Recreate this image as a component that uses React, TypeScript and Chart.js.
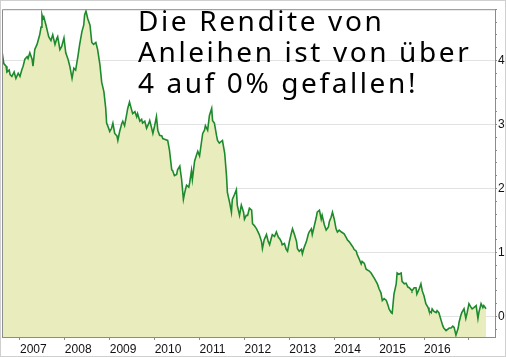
import React, { useEffect, useRef } from "react";
import { Chart, registerables } from "chart.js";

Chart.register(...registerables);

// Dates as decimal years, yields in percent
const YEARS = [
  2006.60, 2006.64, 2006.69, 2006.71, 2006.76, 2006.78, 2006.82, 2006.87, 2006.91, 2006.96,
  2007.00, 2007.04, 2007.07, 2007.11, 2007.16, 2007.18, 2007.22, 2007.27, 2007.29, 2007.33,
  2007.38, 2007.44, 2007.47, 2007.49, 2007.51, 2007.53, 2007.58, 2007.62, 2007.64, 2007.69,
  2007.73, 2007.78, 2007.82, 2007.84, 2007.89, 2007.93, 2007.98, 2008.02, 2008.07, 2008.11,
  2008.16, 2008.20, 2008.24, 2008.29, 2008.33, 2008.38, 2008.42, 2008.44, 2008.47, 2008.51,
  2008.56, 2008.60, 2008.64, 2008.69, 2008.73, 2008.78, 2008.82, 2008.87, 2008.91, 2008.93,
  2008.96, 2009.00, 2009.04, 2009.07, 2009.11, 2009.16, 2009.18, 2009.22, 2009.27, 2009.29,
  2009.33, 2009.38, 2009.40, 2009.44, 2009.49, 2009.51, 2009.56, 2009.60, 2009.62, 2009.67,
  2009.71, 2009.73, 2009.78, 2009.82, 2009.87, 2009.89, 2009.93, 2009.96, 2010.00, 2010.04,
  2010.07, 2010.11, 2010.16, 2010.18, 2010.22, 2010.29, 2010.33, 2010.38, 2010.40, 2010.44,
  2010.49, 2010.51, 2010.56, 2010.60, 2010.64, 2010.67, 2010.71, 2010.76, 2010.78, 2010.82,
  2010.84, 2010.89, 2010.93, 2010.96, 2011.00, 2011.04, 2011.07, 2011.11, 2011.13, 2011.18,
  2011.22, 2011.27, 2011.29, 2011.33, 2011.38, 2011.40, 2011.44, 2011.51, 2011.56, 2011.60,
  2011.62, 2011.67, 2011.71, 2011.73, 2011.78, 2011.82, 2011.84, 2011.89, 2011.93, 2011.98,
  2012.00, 2012.04, 2012.07, 2012.11, 2012.16, 2012.18, 2012.22, 2012.27, 2012.33, 2012.38,
  2012.40, 2012.44, 2012.49, 2012.53, 2012.56, 2012.60, 2012.62, 2012.67, 2012.71, 2012.76,
  2012.78, 2012.82, 2012.84, 2012.89, 2012.93, 2012.96, 2013.00, 2013.04, 2013.07, 2013.11,
  2013.16, 2013.18, 2013.22, 2013.27, 2013.29, 2013.33, 2013.38, 2013.42, 2013.44, 2013.49,
  2013.51, 2013.56, 2013.60, 2013.62, 2013.67, 2013.71, 2013.73, 2013.78, 2013.82, 2013.87,
  2013.89, 2013.93, 2013.96, 2014.00, 2014.04, 2014.07, 2014.11, 2014.16, 2014.22, 2014.27,
  2014.29, 2014.33, 2014.38, 2014.42, 2014.44, 2014.49, 2014.51, 2014.56, 2014.60, 2014.62,
  2014.67, 2014.71, 2014.78, 2014.82, 2014.89, 2014.93, 2014.96, 2015.00, 2015.04, 2015.07,
  2015.11, 2015.16, 2015.20, 2015.22, 2015.27, 2015.29, 2015.33, 2015.38, 2015.40, 2015.44,
  2015.49, 2015.51, 2015.56, 2015.60, 2015.64, 2015.67, 2015.71, 2015.73, 2015.78, 2015.82,
  2015.84, 2015.89, 2015.93, 2015.96, 2016.00, 2016.04, 2016.09, 2016.11, 2016.16, 2016.18,
  2016.22, 2016.27, 2016.29, 2016.33, 2016.38, 2016.42, 2016.44, 2016.49, 2016.51, 2016.56,
  2016.60, 2016.64, 2016.67, 2016.71, 2016.76, 2016.78, 2016.82, 2016.84, 2016.89, 2016.93,
  2016.96, 2017.00, 2017.04, 2017.07, 2017.11, 2017.16, 2017.20, 2017.22, 2017.27, 2017.31,
  2017.33, 2017.38,
];

const YIELDS = [
  4.14, 3.95, 3.91, 3.82, 3.85, 3.78, 3.75, 3.82, 3.72, 3.80,
  3.75, 3.85, 3.91, 4.02, 4.06, 4.03, 4.12, 4.02, 3.91, 4.17,
  4.25, 4.40, 4.52, 4.71, 4.65, 4.68, 4.55, 4.43, 4.37, 4.31,
  4.40, 4.25, 4.34, 4.37, 4.17, 4.22, 4.35, 4.12, 4.02, 3.91,
  3.72, 3.88, 3.85, 4.06, 4.25, 4.45, 4.55, 4.71, 4.77, 4.65,
  4.55, 4.28, 4.25, 4.28, 4.17, 3.94, 3.66, 3.51, 3.25, 3.02,
  2.97, 2.89, 2.94, 3.02, 2.86, 2.82, 2.75, 2.89, 3.02, 3.05,
  2.98, 3.17, 3.25, 3.35, 3.22, 3.17, 3.20, 3.12, 3.17, 3.05,
  3.08, 3.02, 3.05, 2.94, 3.02, 3.06, 2.95, 2.86, 2.98, 3.12,
  2.91, 2.83, 2.82, 2.78, 2.77, 2.75, 2.60, 2.29, 2.28, 2.20,
  2.22, 2.29, 2.35, 2.14, 1.83, 1.94, 2.05, 2.02, 2.09, 2.28,
  2.14, 2.43, 2.52, 2.58, 2.51, 2.71, 2.86, 2.91, 2.98, 2.91,
  3.14, 3.25, 3.06, 3.02, 2.82, 2.75, 2.71, 2.75, 2.55, 2.20,
  1.94, 1.78, 1.63, 1.83, 1.91, 1.98, 1.74, 1.58, 1.74, 1.63,
  1.52, 1.58, 1.58, 1.69, 1.66, 1.45, 1.42, 1.37, 1.28, 1.17,
  1.06, 1.20, 1.28, 1.17, 1.12, 1.23, 1.28, 1.25, 1.32, 1.23,
  1.22, 1.17, 1.12, 1.14, 1.05, 1.02, 1.17, 1.29, 1.37, 1.29,
  1.17, 1.06, 1.02, 1.05, 0.98, 1.08, 1.17, 1.28, 1.32, 1.37,
  1.28, 1.43, 1.55, 1.63, 1.66, 1.52, 1.58, 1.43, 1.35, 1.40,
  1.48, 1.55, 1.63, 1.52, 1.37, 1.32, 1.35, 1.32, 1.29, 1.23,
  1.20, 1.17, 1.12, 1.08, 1.05, 1.02, 0.97, 0.89, 0.82, 0.86,
  0.83, 0.74, 0.71, 0.68, 0.60, 0.55, 0.51, 0.43, 0.37, 0.25,
  0.28, 0.25, 0.17, 0.12, 0.06, 0.05, 0.35, 0.51, 0.68, 0.66,
  0.68, 0.55, 0.51, 0.52, 0.46, 0.45, 0.42, 0.40, 0.45, 0.45,
  0.35, 0.43, 0.51, 0.40, 0.32, 0.20, 0.14, 0.09, 0.06, 0.12,
  0.08, 0.06, 0.09, 0.06, -0.06, -0.15, -0.18, -0.22, -0.22, -0.18,
  -0.18, -0.15, -0.17, -0.29, -0.18, -0.09, 0.02, 0.06, 0.12, -0.03,
  0.06, 0.20, 0.15, 0.12, 0.14, 0.17, -0.03, 0.06, 0.20, 0.14,
  0.17, 0.12,
];

const X_TICK_LABELS = [2007, 2008, 2009, 2010, 2011, 2012, 2013, 2014, 2015, 2016];
const Y_TICK_LABELS = [0, 1, 2, 3, 4];
const X_MIN = 2006.6;
const X_MAX = 2017.58;
const Y_MIN = -0.32;
const Y_MAX = 4.8;

const NOTE_LINES = ["Die Rendite von", "Anleihen ist von über", "4 auf 0% gefallen!"];

const isWhole = (v: number) => Math.abs(v - Math.round(v)) < 1e-6;

const framePlugin = {
  id: "frame",
  afterDraw(chart: any) {
    const { ctx, chartArea } = chart;
    ctx.save();
    ctx.strokeStyle = "#8c8c8c";
    ctx.lineWidth = 1;
    ctx.beginPath();
    ctx.moveTo(chartArea.left + 0.5, chartArea.bottom);
    ctx.lineTo(chartArea.left + 0.5, chartArea.top + 0.5);
    ctx.lineTo(chartArea.right, chartArea.top + 0.5);
    ctx.stroke();
    // annotation
    ctx.fillStyle = "#000";
    ctx.font = '28px "Noto Sans"';
    (ctx as any).letterSpacing = "2.6px";
    ctx.textBaseline = "alphabetic";
    ctx.textAlign = "left";
    const baselines = [30, 61, 92];
    NOTE_LINES.forEach((t, i) => ctx.fillText(t, 137, baselines[i]));
    ctx.restore();
  },
};

export default function App() {
  const ref = useRef<HTMLCanvasElement | null>(null);
  useEffect(() => {
    document.body.style.margin = "0";
    const canvas = ref.current!;
    const chart = new Chart(canvas, {
      type: "line",
      data: {
        datasets: [
          {
            data: YEARS.map((x, i) => ({ x, y: YIELDS[i] })),
            borderColor: "#1d8a2e",
            backgroundColor: "#e9edbd",
            borderWidth: 1.6,
            fill: "start",
            pointRadius: 0,
            tension: 0,
          },
        ],
      },
      options: {
        animation: false,
        responsive: false,
        devicePixelRatio: 1,
        layout: { padding: { left: 1, top: 2, right: 0, bottom: 0 } },
        plugins: { legend: { display: false }, tooltip: { enabled: false } },
        scales: {
          x: {
            type: "linear",
            min: X_MIN,
            max: X_MAX,
            afterFit: (s: any) => {
              s.height = 19;
            },
            border: { color: "#8c8c8c" },
            grid: { drawOnChartArea: false, tickLength: 3, color: "#8c8c8c" },
            ticks: {
              stepSize: 1,
              includeBounds: false,
              autoSkip: false,
              maxRotation: 0,
              align: "start",
              padding: 2,
              color: "#111",
              font: { family: "Liberation Sans", size: 12 },
              callback: (v: any) => {
                const n = Math.round(Number(v));
                return isWhole(Number(v)) && X_TICK_LABELS.includes(n) ? String(n) : "";
              },
            },
          },
          y: {
            position: "right",
            min: Y_MIN,
            max: Y_MAX,
            afterFit: (s: any) => {
              s.width = 10;
            },
            border: { color: "#8c8c8c" },
            grid: {
              tickLength: 2,
              tickColor: "#8c8c8c",
              color: (c: any) => (c.tick && isWhole(c.tick.value) ? "#e2e2e2" : "rgba(0,0,0,0)"),
            },
            ticks: {
              stepSize: 0.2,
              includeBounds: false,
              autoSkip: false,
              padding: 1,
              color: "#111",
              font: { family: "Liberation Sans", size: 12 },
              callback: (v: any) => {
                const n = Number(v);
                return isWhole(n) && Y_TICK_LABELS.includes(Math.round(n)) ? String(Math.round(n)) : "";
              },
            },
          },
        },
      },
      plugins: [framePlugin],
    });
    return () => chart.destroy();
  }, []);
  return (
    <div
      style={{
        width: 506,
        height: 357,
        boxSizing: "border-box",
        border: "1px solid #cfcfcf",
        background: "#fff",
      }}
    >
      <canvas ref={ref} width={504} height={355} style={{ display: "block" }} />
    </div>
  );
}
